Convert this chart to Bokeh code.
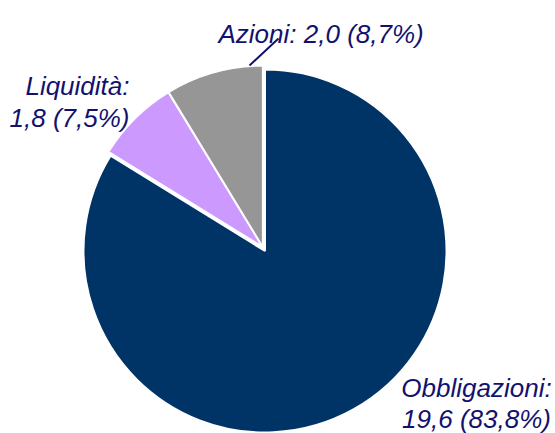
import math
from bokeh.plotting import figure
from bokeh.models import Range1d, ColumnDataSource
from bokeh.core.properties import value
from bokeh.embed import file_html
from bokeh.resources import INLINE

# Data
categories = ["Obbligazioni", "Liquidità", "Azioni"]
amounts = [19.6, 1.8, 2.0]
shares = [83.8, 7.5, 8.7]
colors = ["#003366", "#CC99FF", "#969696"]
label_lines = [
    ["Obbligazioni:", "19,6 (83,8%)"],
    ["Liquidità:", "1,8 (7,5%)"],
    ["Azioni: 2,0 (8,7%)"],
]

W, H = 555, 433
p = figure(width=W, height=H, output_backend="svg", toolbar_location=None,
           x_range=Range1d(0, W), y_range=Range1d(0, H), min_border=0)
p.axis.visible = False
p.grid.visible = False
p.outline_line_color = None
p.background_fill_color = "white"

# pixel-like coordinates: x = image x, y = H - image y
cx, cy, r = 264.5, H - 250.5, 181.5
explode = 4.4
small_total = shares[1] + shares[2]
mid = math.radians(90 + small_total * 3.6 / 2)
offx, offy = explode * math.cos(mid), explode * math.sin(mid)

starts, ends, xs, ys = [], [], [], []
a = 90.0
for i, s in enumerate(shares):
    start = a
    end = a - s * 3.6
    starts.append(math.radians(start))
    ends.append(math.radians(end))
    if i == 0:
        xs.append(cx); ys.append(cy)
    else:
        xs.append(cx + offx); ys.append(cy + offy)
    a = end

src = ColumnDataSource(dict(x=xs, y=ys, start=starts, end=ends, color=colors))
p.wedge(x="x", y="y", radius=r, start_angle="start", end_angle="end",
        direction="clock", fill_color="color", line_color="white",
        line_width=2, source=src)

txt_color = "#12126e"
font = value("Liberation Sans")
fs = "26px"

p.text(x=[476, 476], y=[H - 387, H - 418], text=label_lines[0], text_font=font,
       text_font_size=fs, text_font_style="italic", text_color=txt_color,
       text_align="center", text_baseline="alphabetic")
p.text(x=[129, 129], y=[H - 85, H - 117], text=label_lines[1], text_font=font,
       text_font_size=fs, text_font_style="italic", text_color=txt_color,
       text_align="right", text_baseline="alphabetic")
p.text(x=[218], y=[H - 33], text=label_lines[2], text_font=font,
       text_font_size=fs, text_font_style="italic", text_color=txt_color,
       text_align="left", text_baseline="alphabetic")
p.line(x=[278, 249], y=[H - 38, H - 65], line_color=txt_color, line_width=2)

open("out.html", "w").write(file_html(p, INLINE))
